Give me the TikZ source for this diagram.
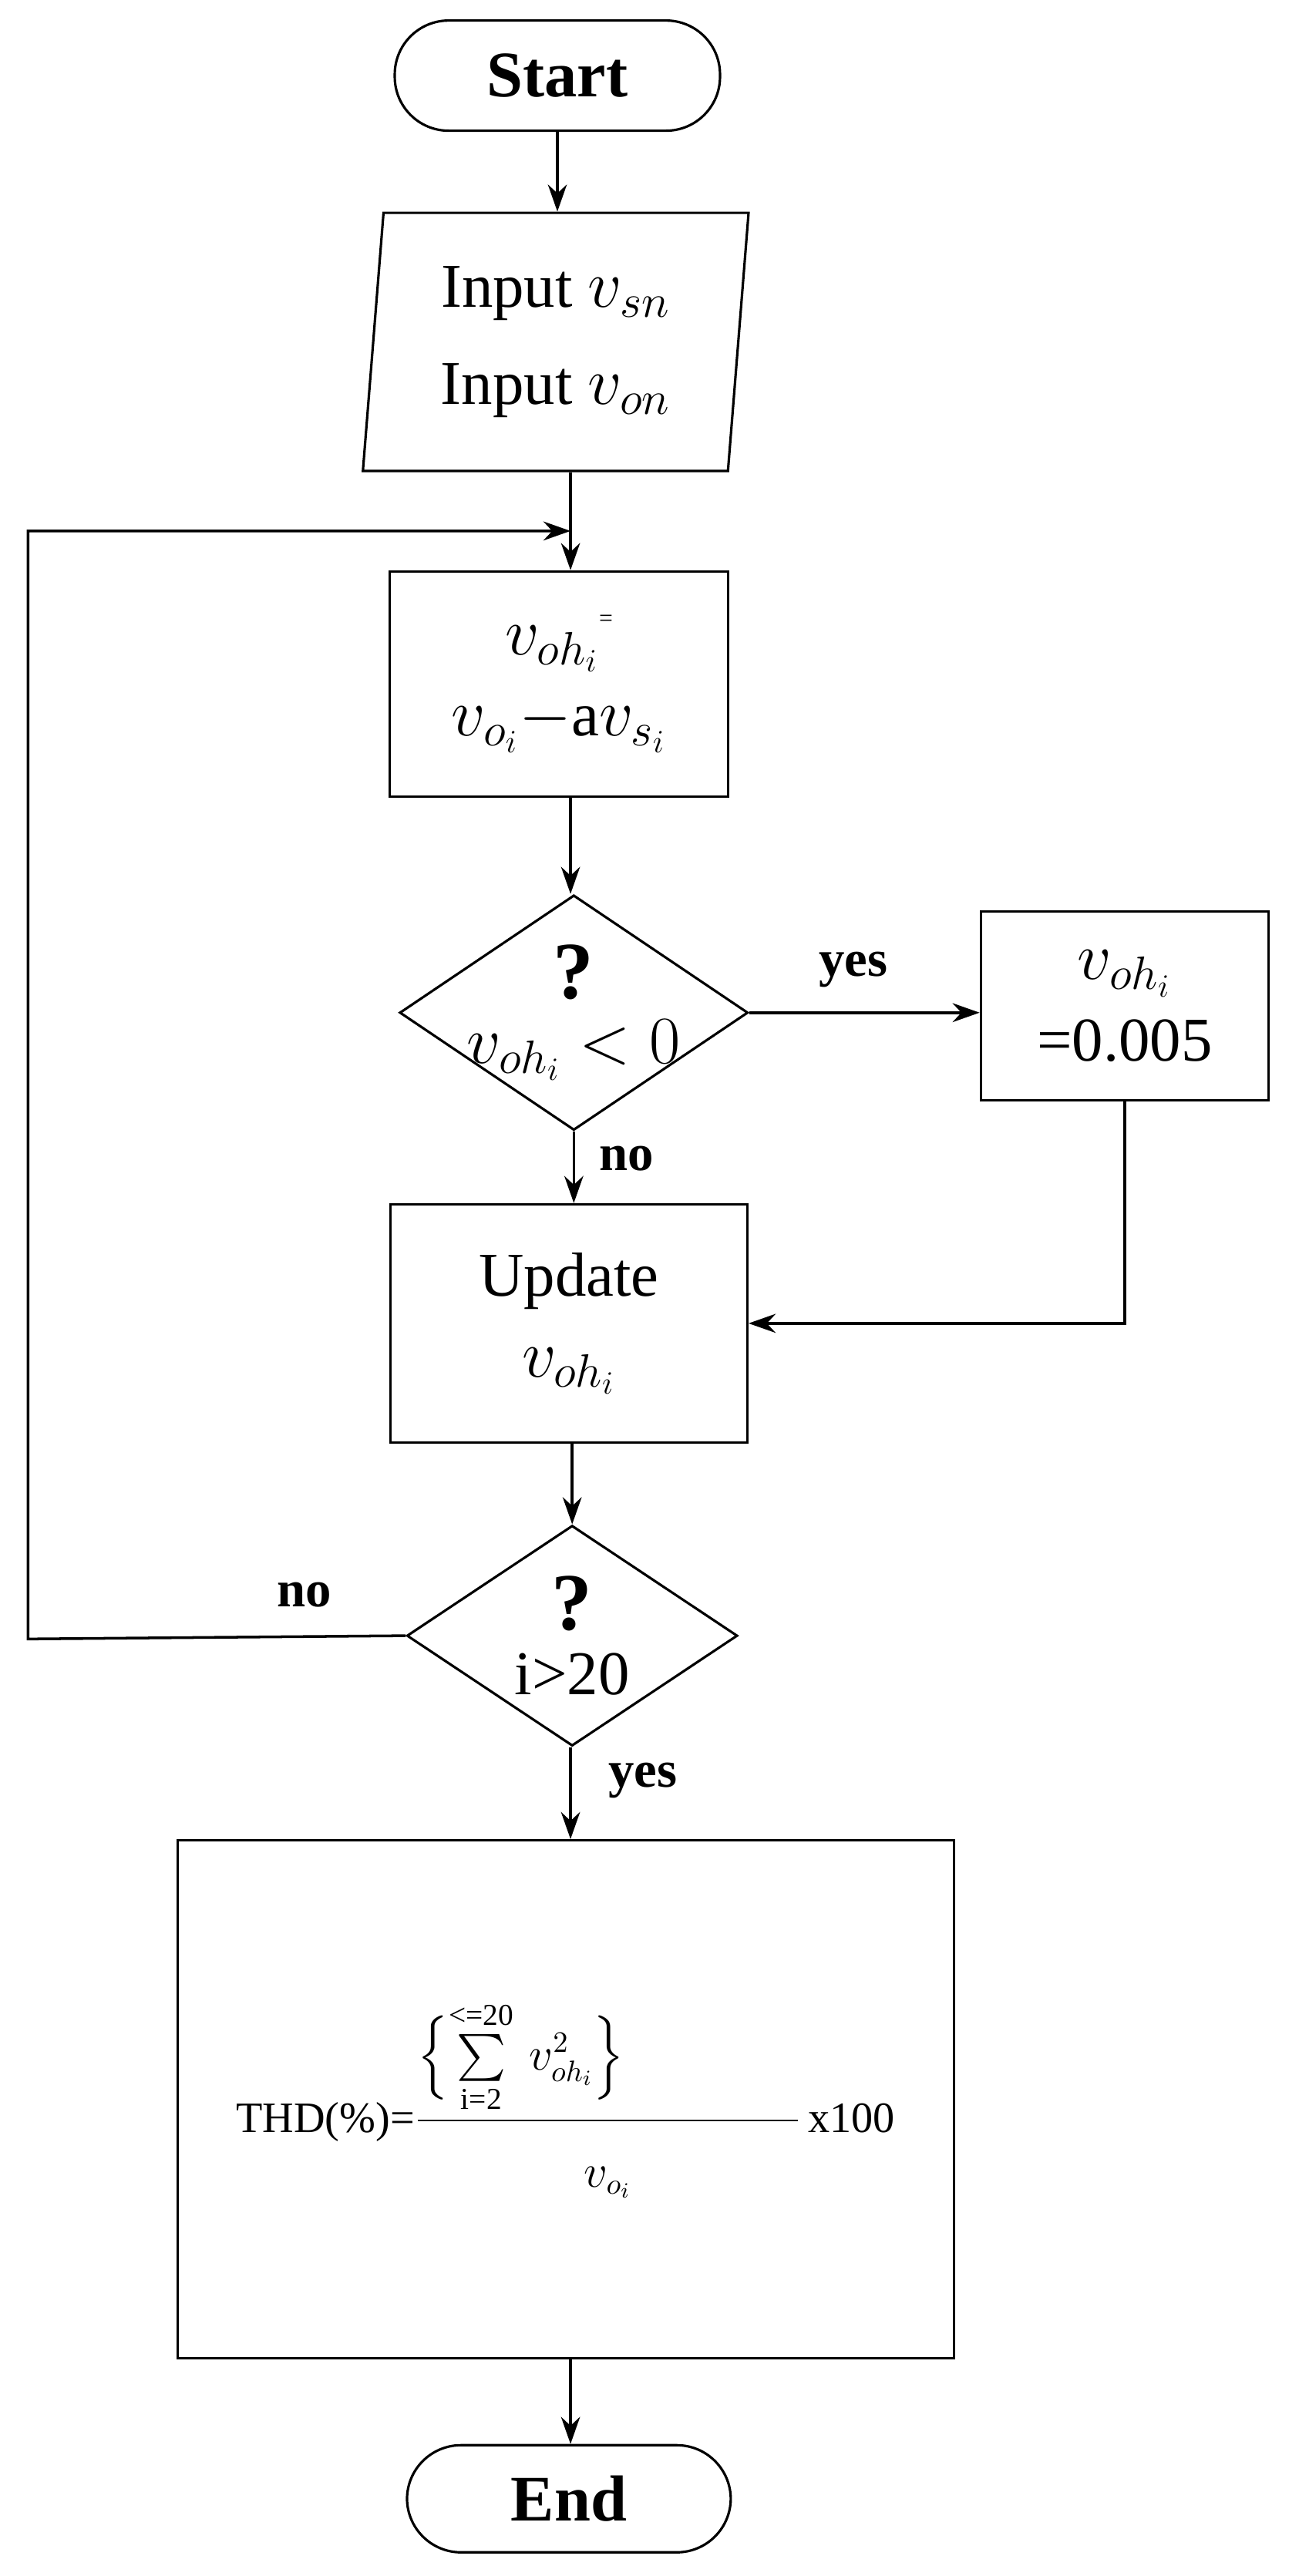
\documentclass[tikz,border=0pt]{standalone}
\usepackage{fontspec}
\setmainfont{Liberation Serif}
\usepackage{amsmath}
\usetikzlibrary{shapes.geometric}
\usetikzlibrary{arrows.meta}

\tikzset{
  box/.style={rectangle,draw,line width=0.9pt,align=center,font=\fontsize{23}{30}\selectfont},
  term/.style={rectangle,rounded corners=0.7cm,draw,line width=0.9pt,font=\fontsize{24}{28}\selectfont\bfseries},
  decide/.style 2 args={diamond,draw,line width=0.9pt,inner sep=0pt,minimum width=#1,minimum height=#2},
  flow/.style={line width=1pt,-{Stealth[length=10pt,width=7pt]}},
  lbl/.style={font=\fontsize{19}{22}\selectfont\bfseries},
  ask/.style={align=center,font=\fontsize{23}{26}\selectfont}
}

\begin{document}
\begin{tikzpicture}[x=0.02133cm,y=-0.02133cm]
\useasboundingbox (0,0) rectangle (790,1567);

\node [term,minimum width=4.22cm,minimum height=1.43cm] (start) at (339,46) {Start};
\node [trapezium,trapezium stretches=true,trapezium left angle=85,trapezium right angle=95,draw,line width=0.9pt,minimum width=5.01cm,minimum height=3.35cm,align=center,font=\fontsize{23}{36}\selectfont] (input) at (338,208) {Input $v_{sn}$\\Input $v_{on}$};
\coordinate (join) at (347,323);
\node [box,minimum width=4.39cm,minimum height=2.92cm] (calc) at (340,416) {$v_{oh_i}$\raisebox{1ex}{\small =}\\$v_{o_i}-$a$v_{s_i}$};
\node [decide={4.52cm}{3.05cm}] (neg) at (349,616) {};
\node [ask] (negq) at (neg.center) {\textbf{\fontsize{30}{30}\selectfont ?}\\[-2pt]$v_{oh_i}<0$};
\node [box,minimum width=3.73cm,minimum height=2.45cm] (fix) at (684,612) {$v_{oh_i}$\\=0.005};
\node [box,minimum width=4.63cm,minimum height=3.09cm] (update) at (346,805) {Update\\$v_{oh_i}$};
\node [decide={4.29cm}{2.86cm}] (iter) at (348,995) {};
\node [ask] (iterq) at (iter.center) {\textbf{\fontsize{30}{30}\selectfont ?}\\[-2pt]i>20};
\node [box,minimum width=10.07cm,minimum height=6.72cm,font=\fontsize{16}{20}\selectfont] (thd) at (344,1277)
  {THD(\%)=$\dfrac{\Bigl\{\sum\limits_{\text{i=2}}^{\text{<=20}}\, v_{oh_i}^2\Bigr\}\qquad\qquad}{\rule{0pt}{3ex}v_{o_i}}$\,x100};
\node [term,minimum width=4.20cm,minimum height=1.39cm] (end) at (346,1520) {End};
\coordinate (loopa) at (17,997);
\coordinate (loopb) at (17,323);
\coordinate (bend) at (684,805);

\draw [flow] (start) -- (input.north -| start);
\draw [flow] (input.south -| join) -- (calc.north -| join);
\draw [flow] (calc.south -| join) -- (neg.north -| join);
\draw [flow] (neg.east) -- (fix.west |- neg.east);
\draw [flow] (fix.south) -- (bend) -- (update.east |- bend);
\draw [flow] (neg.south) -- (update.north -| neg.south);
\draw [flow] (update.south -| iter) -- (iter.north);
\draw [flow] (iter.west) -- (loopa) -- (loopb) -- (join);
\draw [flow] (iter.south -| join) -- (thd.north -| join);
\draw [flow] (thd.south -| join) -- (end.north -| join);

\node [lbl] (yes1) at (519,590) {yes};
\node [lbl] (no1) at (381,705) {no};
\node [lbl] (no2) at (185,970) {no};
\node [lbl] (yes2) at (391,1083) {yes};
\end{tikzpicture}
\end{document}
